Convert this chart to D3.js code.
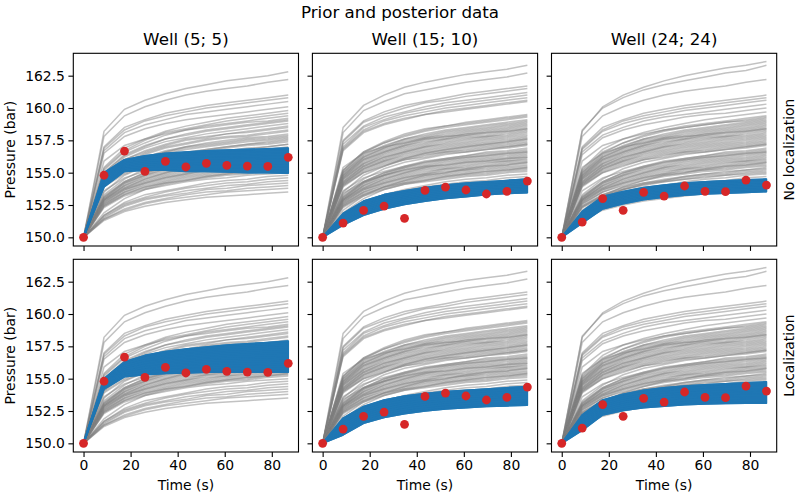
<!DOCTYPE html>
<html>
<head>
<meta charset="utf-8">
<script src="https://cdn.jsdelivr.net/npm/d3@7"></script>
<style>
  html, body { margin: 0; padding: 0; background: #fff; }
  svg { display: block; }
  text { font-family: "DejaVu Sans", sans-serif; fill: #000; }
</style>
</head>
<body>
<svg id="chart" width="800" height="500"></svg>
<script>
// ---------------- DATA ----------------
const times = [0, 8.7, 17.4, 26.1, 34.8, 43.5, 52.2, 60.9, 69.6, 78.3, 87];
const wellNames = ["Well (5; 5)", "Well (15; 10)", "Well (24; 24)"];
const rowNames = ["No localization", "Localization"];
const yTickValues = [150, 152.5, 155, 157.5, 160, 162.5];
const xTickValues = [0, 20, 40, 60, 80];

// observations (red dots)
const obsW1 = [150, 154.8, 156.67, 155.1, 155.88, 155.44, 155.72, 155.57, 155.51, 155.49, 156.19];
const obsW2 = [150, 151.1, 152.09, 152.42, 151.47, 153.63, 153.89, 153.66, 153.35, 153.56, 154.35];
const obsW3 = [150, 151.18, 153.0, 152.09, 153.48, 153.19, 153.97, 153.56, 153.53, 154.43, 154.04];

// prior ensemble (grey)
const priorW1 = [
[150,158.2,159.9,160.6,161.1,161.5,161.8,162.1,162.3,162.5,162.8],
[150,157.8,159.4,160.1,160.6,161.0,161.3,161.5,161.7,162.0,162.2],
[150,157.0,158.5,159.1,159.6,159.9,160.2,160.4,160.6,160.8,161.0],
[150,156.9,158.3,159.0,159.4,159.7,160.0,160.2,160.4,160.6,160.8],
[150,156.7,158.1,158.7,159.1,159.5,159.7,159.9,160.1,160.3,160.5],
[150,156.5,157.8,158.4,158.8,159.1,159.3,159.5,159.7,159.9,160.1],
[150,155.4,156.9,157.6,158.2,158.6,158.9,159.2,159.4,159.6,159.8],
[150,155.3,156.7,157.5,158.1,158.4,158.7,159.0,159.2,159.4,159.6],
[150,155.2,156.6,157.3,157.9,158.3,158.6,158.8,159.0,159.2,159.4],
[150,155.9,157.1,157.6,158.0,158.3,158.5,158.7,158.9,159.0,159.2],
[150,155.0,156.4,157.1,157.6,158.0,158.3,158.5,158.7,158.9,159.1],
[150,155.0,156.3,157.0,157.6,157.9,158.2,158.4,158.6,158.8,159.0],
[150,154.8,156.2,156.9,157.4,157.7,158.0,158.2,158.4,158.6,158.8],
[150,154.7,156.0,156.7,157.2,157.6,157.8,158.0,158.2,158.4,158.6],
[150,154.7,156.0,156.6,157.1,157.5,157.7,158.0,158.1,158.3,158.5],
[150,154.6,155.8,156.5,157.0,157.3,157.6,157.8,157.9,158.1,158.3],
[150,154.5,155.7,156.4,156.9,157.2,157.5,157.7,157.8,158.0,158.2],
[150,154.4,155.6,156.2,156.7,157.0,157.3,157.5,157.7,157.8,158.0],
[150,154.3,155.5,156.2,156.6,157.0,157.2,157.4,157.6,157.7,157.9],
[150,154.3,155.5,156.1,156.6,156.9,157.1,157.3,157.5,157.6,157.8],
[150,154.2,155.4,156.0,156.5,156.8,157.0,157.2,157.4,157.5,157.7],
[150,153.5,154.8,155.5,156.1,156.5,156.8,157.0,157.2,157.4,157.6],
[150,154.1,155.3,155.9,156.3,156.6,156.8,157.0,157.2,157.3,157.5],
[150,154.1,155.2,155.8,156.2,156.5,156.7,156.9,157.1,157.2,157.4],
[150,154.0,155.0,155.6,156.0,156.3,156.6,156.7,156.9,157.0,157.2],
[150,153.3,154.5,155.3,155.8,156.1,156.4,156.6,156.8,157.0,157.2],
[150,153.9,154.9,155.5,155.9,156.2,156.4,156.5,156.7,156.8,157.0],
[150,153.2,154.3,155.0,155.5,155.9,156.1,156.3,156.6,156.7,156.9],
[150,153.1,154.3,155.0,155.4,155.8,156.1,156.3,156.5,156.6,156.8],
[150,153.1,154.2,154.9,155.4,155.7,156.0,156.2,156.4,156.5,156.7],
[150,153.6,154.6,155.1,155.5,155.8,156.0,156.2,156.3,156.5,156.6],
[150,153.0,154.2,154.8,155.3,155.6,155.9,156.1,156.3,156.4,156.6],
[150,153.0,154.1,154.8,155.2,155.5,155.8,156.0,156.2,156.3,156.5],
[150,152.9,154.0,154.7,155.1,155.4,155.7,155.9,156.1,156.2,156.4],
[150,152.9,154.0,154.6,155.0,155.4,155.6,155.8,156.0,156.1,156.3],
[150,152.9,153.9,154.5,155.0,155.3,155.5,155.7,155.9,156.0,156.2],
[150,152.8,153.8,154.5,154.9,155.2,155.4,155.6,155.8,155.9,156.1],
[150,152.8,153.8,154.4,154.8,155.1,155.3,155.5,155.7,155.9,156.0],
[150,152.7,153.7,154.3,154.7,155.0,155.3,155.4,155.6,155.8,155.9],
[150,152.7,153.7,154.2,154.6,154.9,155.2,155.3,155.5,155.7,155.8],
[150,152.6,153.6,154.2,154.6,154.9,155.1,155.2,155.4,155.6,155.7],
[150,152.6,153.5,154.1,154.5,154.8,155.0,155.2,155.3,155.5,155.6],
[150,152.5,153.5,154.0,154.4,154.7,154.9,155.1,155.2,155.4,155.5],
[150,152.5,153.4,153.9,154.3,154.6,154.8,155.0,155.1,155.3,155.4],
[150,151.9,153.0,153.7,154.1,154.4,154.7,154.9,155.1,155.2,155.4],
[150,152.4,153.3,153.9,154.2,154.5,154.7,154.9,155.0,155.2,155.3],
[150,152.4,153.3,153.8,154.2,154.4,154.6,154.8,154.9,155.1,155.2],
[150,152.3,153.2,153.7,154.0,154.3,154.5,154.6,154.8,154.9,155.0],
[150,151.7,152.7,153.3,153.6,153.9,154.2,154.4,154.5,154.7,154.8],
[150,151.7,152.6,153.1,153.5,153.8,154.0,154.2,154.3,154.5,154.6],
[150,151.6,152.5,153.0,153.3,153.6,153.8,154.0,154.1,154.3,154.4],
[150,151.5,152.4,152.9,153.2,153.4,153.7,153.8,154.0,154.1,154.2],
[150,151.4,152.2,152.7,153.0,153.3,153.5,153.6,153.8,153.9,154.0],
[150,151.4,152.1,152.6,152.9,153.1,153.3,153.5,153.6,153.7,153.8],
[150,151.3,152.0,152.4,152.7,152.9,153.1,153.2,153.3,153.4,153.5]
];
const priorW2 = [
[150,158.5,160.2,161.0,161.6,162.0,162.3,162.6,162.8,163.0,163.3],
[150,158.1,159.8,160.5,161.1,161.4,161.7,162.0,162.2,162.4,162.7],
[150,157.5,159.0,159.7,160.2,160.5,160.8,161.1,161.3,161.5,161.7],
[150,157.4,158.9,159.5,160.0,160.4,160.6,160.9,161.1,161.3,161.5],
[150,157.2,158.6,159.3,159.7,160.1,160.4,160.6,160.8,161.0,161.2],
[150,157.0,158.5,159.1,159.6,159.9,160.2,160.4,160.6,160.8,161.0],
[150,156.9,158.3,159.0,159.4,159.7,160.0,160.2,160.4,160.6,160.8],
[150,156.8,158.2,158.8,159.2,159.5,159.8,160.0,160.2,160.4,160.6],
[150,156.7,158.1,158.7,159.1,159.5,159.7,159.9,160.1,160.3,160.5],
[150,155.2,156.6,157.4,158.0,158.4,158.6,158.9,159.1,159.3,159.5],
[150,155.2,156.6,157.3,157.9,158.3,158.6,158.8,159.0,159.2,159.4],
[150,155.1,156.5,157.3,157.8,158.2,158.5,158.7,158.9,159.1,159.3],
[150,155.0,156.4,157.1,157.6,158.0,158.3,158.5,158.7,158.9,159.1],
[150,155.0,156.3,157.0,157.6,157.9,158.2,158.4,158.6,158.8,159.0],
[150,154.9,156.2,156.9,157.5,157.8,158.1,158.3,158.5,158.7,158.9],
[150,154.8,156.2,156.9,157.4,157.7,158.0,158.2,158.4,158.6,158.8],
[150,154.8,156.1,156.8,157.3,157.7,157.9,158.1,158.3,158.5,158.7],
[150,154.7,156.0,156.7,157.2,157.6,157.8,158.0,158.2,158.4,158.6],
[150,154.7,156.0,156.6,157.1,157.5,157.7,158.0,158.1,158.3,158.5],
[150,154.6,155.9,156.6,157.1,157.4,157.6,157.9,158.0,158.2,158.4],
[150,155.4,156.5,157.0,157.3,157.6,157.8,157.9,158.1,158.2,158.4],
[150,154.6,155.8,156.5,157.0,157.3,157.6,157.8,157.9,158.1,158.3],
[150,154.5,155.7,156.4,156.9,157.2,157.5,157.7,157.8,158.0,158.2],
[150,154.5,155.7,156.3,156.8,157.1,157.4,157.6,157.8,157.9,158.1],
[150,154.4,155.6,156.2,156.7,157.0,157.3,157.5,157.7,157.8,158.0],
[150,154.3,155.5,156.2,156.6,157.0,157.2,157.4,157.6,157.7,157.9],
[150,154.3,155.5,156.1,156.6,156.9,157.1,157.3,157.5,157.6,157.8],
[150,154.2,155.4,156.0,156.5,156.8,157.0,157.2,157.4,157.5,157.7],
[150,154.2,155.3,155.9,156.4,156.7,156.9,157.1,157.3,157.4,157.6],
[150,153.5,154.8,155.5,156.1,156.5,156.8,157.0,157.2,157.4,157.6],
[150,154.1,155.3,155.9,156.3,156.6,156.8,157.0,157.2,157.3,157.5],
[150,154.1,155.2,155.8,156.2,156.5,156.7,156.9,157.1,157.2,157.4],
[150,154.0,155.1,155.7,156.1,156.4,156.6,156.8,157.0,157.1,157.3],
[150,154.0,155.0,155.6,156.0,156.3,156.6,156.7,156.9,157.0,157.2],
[150,153.3,154.5,155.3,155.8,156.1,156.4,156.6,156.8,157.0,157.2],
[150,153.9,155.0,155.5,156.0,156.2,156.5,156.6,156.8,156.9,157.1],
[150,153.2,154.3,155.0,155.5,155.9,156.1,156.3,156.6,156.7,156.9],
[150,153.1,154.3,155.0,155.4,155.8,156.1,156.3,156.5,156.6,156.8],
[150,153.1,154.2,154.9,155.4,155.7,156.0,156.2,156.4,156.5,156.7],
[150,153.6,154.6,155.1,155.5,155.8,156.0,156.2,156.3,156.5,156.6],
[150,153.0,154.2,154.8,155.3,155.6,155.9,156.1,156.3,156.4,156.6],
[150,153.0,154.1,154.8,155.2,155.5,155.8,156.0,156.2,156.3,156.5],
[150,152.9,154.0,154.7,155.1,155.4,155.7,155.9,156.1,156.2,156.4],
[150,152.9,154.0,154.6,155.0,155.4,155.6,155.8,156.0,156.1,156.3],
[150,153.4,154.3,154.8,155.2,155.5,155.6,155.8,155.9,156.1,156.2],
[150,152.9,153.9,154.5,155.0,155.3,155.5,155.7,155.9,156.0,156.2],
[150,152.8,153.8,154.5,154.9,155.2,155.4,155.6,155.8,155.9,156.1],
[150,152.8,153.8,154.4,154.8,155.1,155.3,155.5,155.7,155.9,156.0],
[150,152.7,153.7,154.3,154.7,155.0,155.3,155.4,155.6,155.8,155.9],
[150,152.7,153.7,154.2,154.6,154.9,155.2,155.3,155.5,155.7,155.8],
[150,152.1,153.2,153.9,154.4,154.8,155.0,155.3,155.5,155.6,155.8],
[150,152.6,153.6,154.2,154.6,154.9,155.1,155.2,155.4,155.6,155.7],
[150,152.6,153.5,154.1,154.5,154.8,155.0,155.2,155.3,155.5,155.6],
[150,152.5,153.5,154.0,154.4,154.7,154.9,155.1,155.2,155.4,155.5],
[150,152.5,153.4,153.9,154.3,154.6,154.8,155.0,155.1,155.3,155.4],
[150,151.9,153.0,153.7,154.1,154.4,154.7,154.9,155.1,155.2,155.4],
[150,152.4,153.3,153.9,154.2,154.5,154.7,154.9,155.0,155.2,155.3],
[150,152.4,153.3,153.8,154.2,154.4,154.6,154.8,154.9,155.1,155.2],
[150,152.3,153.2,153.7,154.1,154.3,154.5,154.7,154.8,155.0,155.1],
[150,151.8,152.7,153.3,153.7,154.0,154.3,154.5,154.6,154.8,154.9],
[150,151.7,152.6,153.2,153.6,153.9,154.1,154.3,154.4,154.6,154.7],
[150,151.6,152.5,153.1,153.4,153.7,153.9,154.1,154.2,154.4,154.5],
[150,151.5,152.4,152.9,153.3,153.5,153.7,153.9,154.0,154.2,154.3],
[150,151.4,152.2,152.7,153.0,153.3,153.5,153.6,153.8,153.9,154.0],
[150,151.4,152.1,152.6,152.9,153.1,153.3,153.5,153.6,153.7,153.8]
];
const priorW3 = [
[150,158.2,160.1,161.0,161.6,162.1,162.5,162.8,163.1,163.3,163.6],
[150,158.3,160.0,160.8,161.4,161.8,162.1,162.4,162.7,162.9,163.3],
[150,157.8,159.4,160.1,160.6,161.0,161.3,161.5,161.7,162.0,162.2],
[150,157.0,158.5,159.1,159.6,159.9,160.2,160.4,160.6,160.8,161.0],
[150,156.9,158.3,159.0,159.4,159.7,160.0,160.2,160.4,160.6,160.8],
[150,156.8,158.2,158.8,159.2,159.5,159.8,160.0,160.2,160.4,160.6],
[150,156.6,157.9,158.5,159.0,159.3,159.5,159.7,159.9,160.1,160.3],
[150,156.4,157.7,158.3,158.7,159.0,159.3,159.5,159.6,159.8,160.0],
[150,155.3,156.8,157.6,158.1,158.5,158.8,159.1,159.3,159.5,159.7],
[150,155.2,156.6,157.3,157.9,158.3,158.6,158.8,159.0,159.2,159.4],
[150,155.1,156.5,157.3,157.8,158.2,158.5,158.7,158.9,159.1,159.3],
[150,155.9,157.1,157.6,158.0,158.3,158.5,158.7,158.9,159.0,159.2],
[150,155.0,156.4,157.1,157.6,158.0,158.3,158.5,158.7,158.9,159.1],
[150,155.0,156.3,157.0,157.6,157.9,158.2,158.4,158.6,158.8,159.0],
[150,154.9,156.2,156.9,157.5,157.8,158.1,158.3,158.5,158.7,158.9],
[150,154.8,156.2,156.9,157.4,157.7,158.0,158.2,158.4,158.6,158.8],
[150,154.8,156.1,156.8,157.3,157.7,157.9,158.1,158.3,158.5,158.7],
[150,154.7,156.0,156.7,157.2,157.6,157.8,158.0,158.2,158.4,158.6],
[150,154.7,156.0,156.6,157.1,157.5,157.7,158.0,158.1,158.3,158.5],
[150,154.6,155.9,156.6,157.1,157.4,157.6,157.9,158.0,158.2,158.4],
[150,155.4,156.5,157.0,157.3,157.6,157.8,157.9,158.1,158.2,158.4],
[150,154.6,155.8,156.5,157.0,157.3,157.6,157.8,157.9,158.1,158.3],
[150,154.5,155.7,156.4,156.9,157.2,157.5,157.7,157.8,158.0,158.2],
[150,154.5,155.7,156.3,156.8,157.1,157.4,157.6,157.8,157.9,158.1],
[150,154.4,155.6,156.2,156.7,157.0,157.3,157.5,157.7,157.8,158.0],
[150,154.3,155.5,156.2,156.6,157.0,157.2,157.4,157.6,157.7,157.9],
[150,154.3,155.5,156.1,156.6,156.9,157.1,157.3,157.5,157.6,157.8],
[150,154.2,155.4,156.0,156.5,156.8,157.0,157.2,157.4,157.5,157.7],
[150,154.2,155.3,155.9,156.4,156.7,156.9,157.1,157.3,157.4,157.6],
[150,154.1,155.3,155.9,156.3,156.6,156.8,157.0,157.2,157.3,157.5],
[150,154.1,155.2,155.8,156.2,156.5,156.7,156.9,157.1,157.2,157.4],
[150,154.0,155.1,155.7,156.1,156.4,156.6,156.8,157.0,157.1,157.3],
[150,154.0,155.0,155.6,156.0,156.3,156.6,156.7,156.9,157.0,157.2],
[150,153.3,154.5,155.3,155.8,156.1,156.4,156.6,156.8,157.0,157.2],
[150,153.9,155.0,155.5,156.0,156.2,156.5,156.6,156.8,156.9,157.1],
[150,153.2,154.3,155.0,155.5,155.9,156.1,156.3,156.6,156.7,156.9],
[150,153.1,154.3,155.0,155.4,155.8,156.1,156.3,156.5,156.6,156.8],
[150,153.1,154.2,154.9,155.4,155.7,156.0,156.2,156.4,156.5,156.7],
[150,153.6,154.6,155.1,155.5,155.8,156.0,156.2,156.3,156.5,156.6],
[150,153.0,154.2,154.8,155.3,155.6,155.9,156.1,156.3,156.4,156.6],
[150,153.0,154.1,154.8,155.2,155.5,155.8,156.0,156.2,156.3,156.5],
[150,152.9,154.0,154.7,155.1,155.4,155.7,155.9,156.1,156.2,156.4],
[150,152.9,154.0,154.6,155.0,155.4,155.6,155.8,156.0,156.1,156.3],
[150,152.9,153.9,154.5,155.0,155.3,155.5,155.7,155.9,156.0,156.2],
[150,152.8,153.8,154.5,154.9,155.2,155.4,155.6,155.8,155.9,156.1],
[150,152.8,153.8,154.4,154.8,155.1,155.3,155.5,155.7,155.9,156.0],
[150,152.7,153.7,154.3,154.7,155.0,155.3,155.4,155.6,155.8,155.9],
[150,152.7,153.7,154.2,154.6,154.9,155.2,155.3,155.5,155.7,155.8],
[150,152.1,153.2,153.9,154.4,154.8,155.0,155.3,155.5,155.6,155.8],
[150,152.6,153.6,154.2,154.6,154.9,155.1,155.2,155.4,155.6,155.7],
[150,152.6,153.5,154.1,154.5,154.8,155.0,155.2,155.3,155.5,155.6],
[150,152.5,153.5,154.0,154.4,154.7,154.9,155.1,155.2,155.4,155.5],
[150,151.9,153.0,153.7,154.1,154.4,154.7,154.9,155.1,155.2,155.4],
[150,152.4,153.3,153.9,154.2,154.5,154.7,154.9,155.0,155.2,155.3],
[150,152.4,153.3,153.8,154.2,154.4,154.6,154.8,154.9,155.1,155.2],
[150,152.3,153.2,153.7,154.1,154.3,154.5,154.7,154.8,155.0,155.1],
[150,152.3,153.2,153.7,154.0,154.3,154.5,154.6,154.8,154.9,155.0],
[150,151.8,152.7,153.3,153.7,154.0,154.3,154.5,154.6,154.8,154.9],
[150,151.7,152.6,153.2,153.6,153.9,154.1,154.3,154.4,154.6,154.7],
[150,151.6,152.5,153.0,153.3,153.6,153.8,154.0,154.1,154.3,154.4],
[150,151.5,152.3,152.8,153.1,153.4,153.6,153.7,153.9,154.0,154.1],
[150,151.3,152.1,152.5,152.8,153.0,153.2,153.4,153.5,153.6,153.7]
];

// posterior ensemble (blue), no localization
const postNoLocW1 = [
[150,153.9,155.1,155.2,155.2,155.1,155.1,155.05,155.0,155.0,154.95],
[150,154.04,155.21,155.34,155.36,155.29,155.3,155.26,155.23,155.23,155.19],
[150,154.18,155.33,155.48,155.53,155.48,155.5,155.48,155.45,155.46,155.44],
[150,154.31,155.44,155.61,155.69,155.66,155.7,155.69,155.68,155.69,155.68],
[150,154.45,155.55,155.75,155.85,155.85,155.9,155.9,155.9,155.93,155.93],
[150,154.59,155.66,155.89,156.01,156.04,156.1,156.11,156.13,156.16,156.17],
[150,154.73,155.78,156.03,156.18,156.23,156.3,156.33,156.35,156.39,156.41],
[150,154.86,155.89,156.16,156.34,156.41,156.5,156.54,156.58,156.62,156.66],
[150,155.0,156.0,156.3,156.5,156.6,156.7,156.75,156.8,156.85,156.9]
];
const postNoLocW2 = [
[150,150.95,151.7,152.2,152.55,152.8,153.0,153.15,153.3,153.4,153.45],
[150,151.06,151.84,152.34,152.68,152.93,153.13,153.28,153.43,153.53,153.58],
[150,151.18,151.98,152.48,152.81,153.06,153.26,153.41,153.55,153.65,153.71],
[150,151.29,152.11,152.61,152.94,153.19,153.39,153.54,153.68,153.78,153.84],
[150,151.4,152.25,152.75,153.08,153.33,153.53,153.68,153.8,153.9,153.98],
[150,151.51,152.39,152.89,153.21,153.46,153.66,153.81,153.93,154.03,154.11],
[150,151.63,152.53,153.03,153.34,153.59,153.79,153.94,154.05,154.15,154.24],
[150,151.74,152.66,153.16,153.47,153.72,153.92,154.07,154.18,154.28,154.37],
[150,151.85,152.8,153.3,153.6,153.85,154.05,154.2,154.3,154.4,154.5]
];
const postNoLocW3 = [
[150,151.1,152.2,152.6,152.9,153.1,153.25,153.35,153.42,153.48,153.53],
[150,151.21,152.32,152.72,153.02,153.22,153.37,153.47,153.54,153.6,153.65],
[150,151.33,152.44,152.84,153.14,153.34,153.49,153.59,153.66,153.72,153.77],
[150,151.44,152.56,152.96,153.26,153.46,153.61,153.71,153.78,153.84,153.89],
[150,151.55,152.68,153.08,153.38,153.58,153.73,153.83,153.9,153.96,154.02],
[150,151.66,152.79,153.19,153.49,153.69,153.84,153.94,154.02,154.08,154.14],
[150,151.78,152.91,153.31,153.61,153.81,153.96,154.06,154.14,154.2,154.26],
[150,151.89,153.03,153.43,153.73,153.93,154.08,154.18,154.26,154.32,154.38],
[150,152.0,153.15,153.55,153.85,154.05,154.2,154.3,154.38,154.44,154.5]
];
// posterior ensemble (blue), localization
const postLocW1 = [
[150,154.2,155.15,155.3,155.4,155.45,155.5,155.5,155.5,155.5,155.5],
[150,154.3,155.29,155.49,155.61,155.68,155.74,155.76,155.78,155.79,155.8],
[150,154.4,155.44,155.68,155.83,155.91,155.99,156.03,156.05,156.08,156.1],
[150,154.5,155.58,155.86,156.04,156.14,156.23,156.29,156.33,156.36,156.4],
[150,154.6,155.73,156.05,156.25,156.38,156.48,156.55,156.6,156.65,156.7],
[150,154.7,155.87,156.24,156.46,156.61,156.72,156.81,156.88,156.94,157.0],
[150,154.8,156.01,156.43,156.68,156.84,156.96,157.08,157.15,157.23,157.3],
[150,154.9,156.16,156.61,156.89,157.07,157.21,157.34,157.43,157.51,157.6],
[150,155.0,156.3,156.8,157.1,157.3,157.45,157.6,157.7,157.8,157.9]
];
const postLocW2 = [
[150,150.65,151.55,152.0,152.3,152.5,152.65,152.75,152.85,152.9,152.95],
[150,150.81,151.71,152.17,152.47,152.67,152.82,152.92,153.02,153.08,153.13],
[150,150.98,151.88,152.34,152.64,152.84,152.99,153.09,153.19,153.25,153.31],
[150,151.14,152.04,152.51,152.81,153.01,153.16,153.26,153.36,153.43,153.49],
[150,151.3,152.2,152.68,152.98,153.18,153.33,153.43,153.53,153.6,153.68],
[150,151.46,152.36,152.84,153.14,153.34,153.49,153.59,153.69,153.78,153.86],
[150,151.63,152.53,153.01,153.31,153.51,153.66,153.76,153.86,153.95,154.04],
[150,151.79,152.69,153.18,153.48,153.68,153.83,153.93,154.03,154.13,154.22],
[150,151.95,152.85,153.35,153.65,153.85,154.0,154.1,154.2,154.3,154.4]
];
const postLocW3 = [
[150,151.0,152.2,152.55,152.75,152.88,152.98,153.04,153.08,153.1,153.1],
[150,151.15,152.34,152.71,152.92,153.06,153.16,153.23,153.27,153.3,153.31],
[150,151.3,152.49,152.86,153.09,153.24,153.34,153.41,153.46,153.5,153.51],
[150,151.45,152.63,153.02,153.26,153.41,153.52,153.6,153.65,153.69,153.72],
[150,151.6,152.78,153.18,153.43,153.59,153.7,153.78,153.84,153.89,153.93],
[150,151.75,152.92,153.33,153.59,153.77,153.88,153.97,154.03,154.09,154.13],
[150,151.9,153.06,153.49,153.76,153.95,154.06,154.15,154.22,154.29,154.34],
[150,152.05,153.21,153.64,153.93,154.12,154.24,154.34,154.41,154.48,154.54],
[150,152.2,153.35,153.8,154.1,154.3,154.42,154.52,154.6,154.68,154.75]
];

// ---------------- LAYOUT ----------------
const priors = [priorW1, priorW2, priorW3];
const observations = [obsW1, obsW2, obsW3];
const posteriors = [
  [postNoLocW1, postNoLocW2, postNoLocW3],
  [postLocW1, postLocW2, postLocW3]
];

const colLeft = [73.3, 312.4, 551.5];
const rowTop = [53.3, 259.3];
const pw = 225.2, ph = 192.7;

const svg = d3.select("#chart");
svg.append("rect").attr("width", 800).attr("height", 500).attr("fill", "#fff");

const x = d3.scaleLinear().domain([-4.35, 91.35]).range([0, pw]);
const y = d3.scaleLinear().domain([149.33, 164.23]).range([ph, 0]);
const line = d3.line().x((d, i) => x(times[i])).y(d => y(d));

svg.append("text").attr("x", 400).attr("y", 18).attr("text-anchor", "middle")
  .style("font-size", "16.7px").text("Prior and posterior data");

for (let r = 0; r < 2; r++) {
  for (let c = 0; c < 3; c++) {
    const g = svg.append("g").attr("transform", `translate(${colLeft[c]},${rowTop[r]})`);

    g.append("g").selectAll("path").data(priors[c]).join("path")
      .attr("d", line).attr("fill", "none")
      .attr("stroke", "#808080").attr("stroke-opacity", 0.48).attr("stroke-width", 1.5);

    // posterior envelope (spread of the blue ensemble members)
    const ens = posteriors[r][c];
    const band = times.map((t, i) => ({
      t, lo: d3.min(ens, m => m[i]), hi: d3.max(ens, m => m[i])
    }));
    g.append("path").datum(band)
      .attr("d", d3.area().x(d => x(d.t)).y0(d => y(d.lo)).y1(d => y(d.hi)))
      .attr("fill", "#1f77b4").attr("stroke", "#1f77b4").attr("stroke-width", 1.6)
      .attr("stroke-linejoin", "round");

    g.append("g").selectAll("path").data(ens).join("path")
      .attr("d", line).attr("fill", "none")
      .attr("stroke", "#1f77b4").attr("stroke-opacity", 0.9).attr("stroke-width", 1.6)
      .attr("stroke-linejoin", "round");

    g.append("g").selectAll("circle").data(observations[c]).join("circle")
      .attr("cx", (d, i) => x(times[i])).attr("cy", d => y(d)).attr("r", 4.4)
      .attr("fill", "#d62728");

    // axes
    const ya = d3.axisLeft(y).tickValues(yTickValues).tickSize(4.9).tickPadding(3.5)
      .tickFormat(c === 0 ? d3.format(".1f") : () => "");
    const yg = g.append("g").call(ya);
    const xa = d3.axisBottom(x).tickValues(xTickValues).tickSize(4.9).tickPadding(3.5)
      .tickFormat(r === 1 ? d3.format("d") : () => "");
    const xg = g.append("g").attr("transform", `translate(0,${ph})`).call(xa);
    [yg, xg].forEach(a => {
      a.select(".domain").remove();
      a.selectAll("line").attr("stroke", "#000").attr("stroke-width", 1.1);
      a.selectAll("text").style("font-size", "13.9px").style("font-family", "DejaVu Sans, sans-serif").attr("fill", "#000");
    });

    g.append("rect").attr("width", pw).attr("height", ph).attr("fill", "none")
      .attr("stroke", "#000").attr("stroke-width", 1.1);

    if (r === 0) {
      g.append("text").attr("x", pw / 2).attr("y", -8.3).attr("text-anchor", "middle")
        .style("font-size", "16.7px").text(wellNames[c]);
    }
    if (r === 1) {
      g.append("text").attr("x", pw / 2).attr("y", ph + 38).attr("text-anchor", "middle")
        .style("font-size", "13.9px").text("Time (s)");
    }
    if (c === 0) {
      g.append("text").attr("transform", `translate(${15 - colLeft[0]},${ph / 2}) rotate(-90)`)
        .attr("text-anchor", "middle").style("font-size", "13.9px").text("Pressure (bar)");
    }
    if (c === 2) {
      g.append("text").attr("transform", `translate(${pw + 17},${ph / 2}) rotate(-90)`)
        .attr("text-anchor", "middle").style("font-size", "13.9px").text(rowNames[r]);
    }
  }
}
</script>
</body>
</html>
